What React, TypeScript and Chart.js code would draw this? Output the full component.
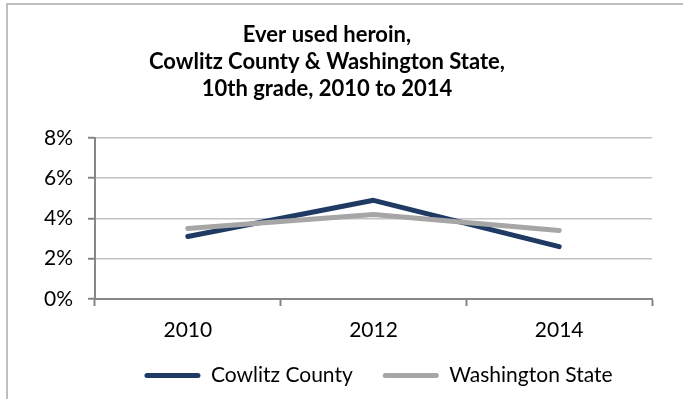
import React, { useEffect, useRef } from "react";
import { Chart, registerables } from "chart.js";

Chart.register(...registerables);

const titleLines = [
  "Ever used heroin,",
  "Cowlitz County & Washington State,",
  "10th grade, 2010 to 2014",
];
const years = ["2010", "2012", "2014"];
const seriesNames = ["Cowlitz County", "Washington State"];
const cowlitzValues = [3.1, 4.9, 2.6];
const washingtonValues = [3.5, 4.2, 3.4];
const yMin = 0;
const yMax = 8;
const yStep = 2;

const FONT = "Lato, 'Open Sans', sans-serif";

const layoutTweaks = {
  id: "layoutTweaks",
  afterLayout(chart: any) {
    if (chart.legend) {
      chart.legend.left += 5;
      chart.legend.right += 5;
    }
    if (chart.scales && chart.scales.x) {
      chart.scales.x.bottom += 12;
    }
  },
};

export default function App() {
  const canvasRef = useRef<HTMLCanvasElement | null>(null);

  useEffect(() => {
    document.body.style.margin = "0";
    document.body.style.overflow = "hidden";
    const canvas = canvasRef.current;
    if (!canvas) return;
    const chart = new Chart(canvas, {
      type: "line",
      plugins: [layoutTweaks],
      data: {
        labels: years,
        datasets: [
          {
            label: seriesNames[0],
            data: cowlitzValues,
            borderColor: "#1F3A63",
            backgroundColor: "#1F3A63",
            borderWidth: 5,
            pointRadius: 0,
            borderCapStyle: "round",
            borderJoinStyle: "round",
            tension: 0,
            order: 2,
          },
          {
            label: seriesNames[1],
            data: washingtonValues,
            borderColor: "#A6A6A6",
            backgroundColor: "#A6A6A6",
            borderWidth: 5,
            pointRadius: 0,
            borderCapStyle: "round",
            borderJoinStyle: "round",
            tension: 0,
            order: 1,
          },
        ],
      },
      options: {
        responsive: false,
        animation: false,
        events: [],
        layout: { padding: { left: 2, right: 31, top: 0, bottom: 3 } },
        plugins: {
          tooltip: { enabled: false },
          title: {
            display: true,
            text: titleLines,
            color: "#000000",
            font: { family: FONT, size: 22, weight: "bold", lineHeight: 1.21 },
            padding: { top: 22, bottom: 36 },
          },
          legend: {
            display: true,
            position: "bottom",
            fullSize: false,
            labels: {
              color: "#000000",
              font: { family: FONT, size: 21 },
              boxWidth: 56,
              boxHeight: 5,
              padding: 30,
              sort: (a: any, b: any) => a.datasetIndex - b.datasetIndex,
              generateLabels: (ch: any) => {
                const items = Chart.defaults.plugins.legend.labels.generateLabels(ch);
                return items.map((it: any) => ({
                  ...it,
                  fillStyle: it.strokeStyle,
                  lineWidth: 0,
                  borderRadius: 2.5,
                }));
              },
            },
          },
        },
        scales: {
          x: {
            offset: true,
            afterFit: (scale: any) => {
              scale.height = 36;
            },
            grid: {
              offset: true,
              drawOnChartArea: false,
              drawTicks: true,
              tickLength: 7,
              tickColor: "#868686",
              tickWidth: 2,
            },
            border: { display: true, color: "#868686", width: 2 },
            ticks: {
              color: "#000000",
              font: { family: FONT, size: 21 },
              padding: 12,
              maxRotation: 0,
            },
          },
          y: {
            min: yMin,
            max: yMax,
            afterFit: (scale: any) => {
              scale.width = 93;
            },
            grid: {
              color: "#C3C3C3",
              lineWidth: 1.5,
              tickLength: 7,
              tickColor: "#868686",
              tickWidth: 2,
            },
            border: { display: true, color: "#868686", width: 2 },
            ticks: {
              stepSize: yStep,
              color: "#000000",
              font: { family: FONT, size: 21 },
              padding: 15,
              callback: (v: any) => `${v}%`,
            },
          },
        },
      },
    });
    return () => chart.destroy();
  }, []);

  return (
    <div style={{ position: "fixed", left: 0, top: 0, width: 683, height: 399, overflow: "hidden", background: "#ffffff" }}>
      <div
        style={{
          position: "absolute",
          left: 6,
          top: 3,
          width: 2000,
          height: 2000,
          border: "2px solid #BFBFBF",
          boxSizing: "border-box",
        }}
      />
      <canvas ref={canvasRef} width={683} height={399} style={{ position: "absolute", left: 0, top: 0 }} />
    </div>
  );
}
